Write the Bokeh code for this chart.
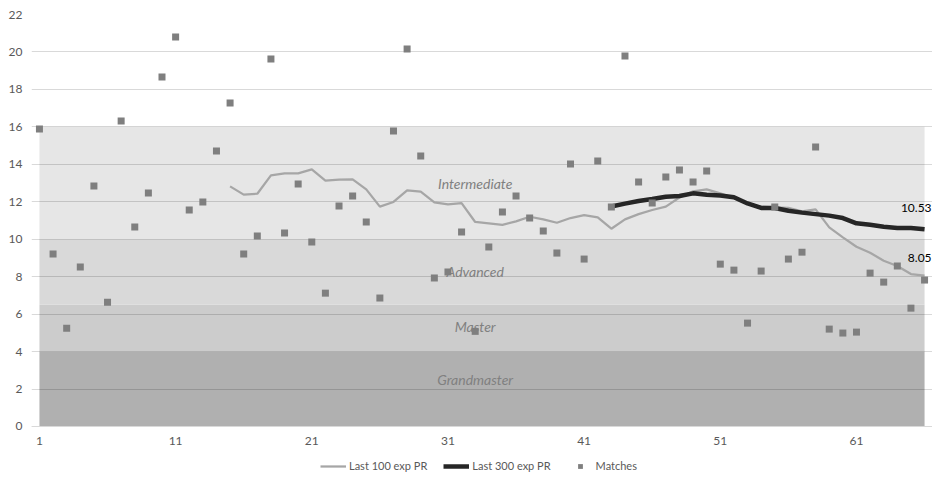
from bokeh.plotting import figure
from bokeh.models import Range1d, FixedTicker, Legend, Label, ColumnDataSource
from bokeh.core.properties import value
from bokeh.embed import file_html
from bokeh.resources import INLINE

# ---------------- data ----------------
match_no = list(range(1, 67))
matches = [15.89, 9.21, 5.25, 8.51, 12.84, 6.64, 16.31, 10.65, 12.47, 18.66,
           20.80, 11.56, 11.99, 14.71, 17.28, 9.21, 10.17, 19.63, 10.33, 12.95,
           9.85, 7.12, 11.77, 12.31, 10.92, 6.86, 15.78, 20.16, 14.44, 7.93,
           8.25, 10.38, 5.08, 9.58, 11.45, 12.31, 11.13, 10.44, 9.26, 14.02,
           8.94, 14.18, 11.72, 19.79, 13.05, 11.93, 13.32, 13.70, 13.05, 13.64,
           8.67, 8.35, 5.52, 8.30, 11.72, 8.94, 9.31, 14.92, 5.20, 4.99,
           5.04, 8.19, 7.71, 8.57, 6.32, 7.82]

last100_x = list(range(15, 67))
last100 = [12.82, 12.38, 12.43, 13.41, 13.52, 13.52, 13.73, 13.13, 13.18, 13.20,
           12.66, 11.74, 11.99, 12.61, 12.54, 11.97, 11.86, 11.93, 10.92, 10.85,
           10.77, 10.95, 11.20, 11.06, 10.88, 11.13, 11.29, 11.17, 10.56, 11.06,
           11.34, 11.56, 11.74, 12.23, 12.56, 12.66, 12.45, 12.20, 11.88, 11.74,
           11.70, 11.67, 11.49, 11.59, 10.63, 10.10, 9.60, 9.28, 8.85, 8.57,
           8.14, 8.05]

last300_x = list(range(43, 67))
last300 = [11.75, 11.90, 12.04, 12.15, 12.27, 12.31, 12.45, 12.38, 12.34, 12.24,
           11.91, 11.67, 11.67, 11.52, 11.42, 11.34, 11.26, 11.13, 10.85, 10.77,
           10.67, 10.60, 10.60, 10.53]

band_names = ["Grandmaster", "Master", "Advanced", "Intermediate"]
band_bottom = [0, 4, 6.5, 10]
band_top = [4, 6.5, 10, 16]
band_label_y = [2.51, 5.36, 8.28, 13.0]
band_label_x = 33

x_ticks = [1, 11, 21, 31, 41, 51, 61]
y_ticks = list(range(0, 23, 2))

# ---------------- styles ----------------
FONT = "Lato"
band_colors = ["#b0b0b0", "#cccccc", "#d9d9d9", "#e6e6e6"]
TXT = "#595959"

# frame extends below zero to host the legend; the x axis sits at y = 0
p = figure(width=932, height=472, output_backend="svg", toolbar_location=None,
           x_range=Range1d(match_no[0] - 0.5835, match_no[-1] + 0.5835),
           y_range=Range1d(-2.457, 22),
           min_border_left=31, min_border_right=0, min_border_top=14,
           min_border_bottom=0)
p.outline_line_color = None
p.background_fill_color = "white"
p.border_fill_color = "white"

# bands
band_src = ColumnDataSource(dict(
    left=[match_no[0]] * 4, right=[match_no[-1]] * 4,
    bottom=band_bottom, top=band_top, color=band_colors))
p.quad(left="left", right="right", bottom="bottom", top="top",
       fill_color="color", line_color=None, source=band_src, level="image")

# grid
p.xgrid.visible = False
p.ygrid.ticker = FixedTicker(ticks=y_ticks)
p.ygrid.grid_line_color = "black"
p.ygrid.grid_line_alpha = 0.15
p.ygrid.grid_line_width = 1

# axes
p.xaxis.ticker = FixedTicker(ticks=x_ticks)
p.yaxis.ticker = FixedTicker(ticks=y_ticks)
for ax in (p.xaxis[0], p.yaxis[0]):
    ax.major_tick_line_color = None
    ax.minor_tick_line_color = None
    ax.major_tick_out = 0
    ax.major_tick_in = 0
    ax.minor_tick_out = 0
    ax.minor_tick_in = 0
    ax.major_label_text_font = FONT
    ax.major_label_text_font_size = "12px"
    ax.major_label_text_color = TXT
p.yaxis.axis_line_color = None
p.xaxis.axis_line_color = "#d9d9d9"
p.xaxis.fixed_location = 0
p.yaxis.major_label_standoff = 9
p.xaxis.major_label_standoff = 11

# band labels
lab_src = ColumnDataSource(dict(x=[band_label_x] * 4, y=band_label_y, t=band_names))
p.text(x="x", y="y", text="t", source=lab_src, text_font=value(FONT),
       text_font_style="italic", text_font_size="14px", text_color="#808080",
       text_align="center", text_baseline="middle")

# series
r100 = p.line(last100_x, last100, line_color="#a6a6a6", line_width=2.25)
r300 = p.line(last300_x, last300, line_color="#262626", line_width=4.5)
rm = p.scatter(match_no, matches, marker="square", size=7,
               fill_color="#7f7f7f", line_color=None)

# end labels
p.add_layout(Label(x=last300_x[-1], y=last300[-1], text=f"{last300[-1]:.2f}",
                   x_offset=7, y_offset=21, text_align="right",
                   text_baseline="middle", text_font=FONT, text_font_size="12px",
                   text_color="#000000"))
p.add_layout(Label(x=last100_x[-1], y=last100[-1], text=f"{last100[-1]:.2f}",
                   x_offset=7, y_offset=18, text_align="right",
                   text_baseline="middle", text_font=FONT, text_font_size="12px",
                   text_color="#000000"))

legend = Legend(items=[("Last 100 exp PR", [r100]), ("Last 300 exp PR", [r300]),
                       ("Matches", [rm])],
                orientation="horizontal", location=(289, 0),
                padding=0, margin=0, spacing=16, label_standoff=3,
                glyph_width=26, glyph_height=12, label_height=12,
                label_text_font=FONT, label_text_font_size="11px",
                label_text_color=TXT, background_fill_alpha=0,
                border_line_color=None)
p.add_layout(legend, "center")

open("out.html", "w").write(file_html(p, INLINE))
